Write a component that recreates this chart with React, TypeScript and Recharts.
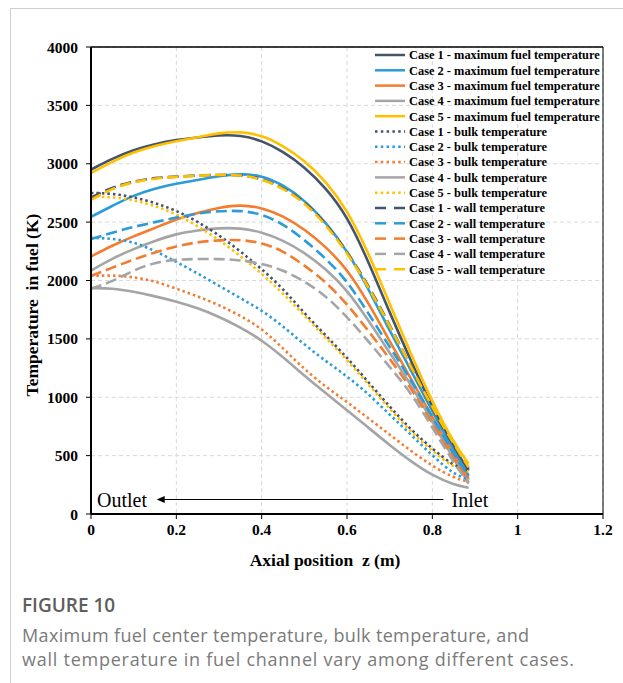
import { LineChart, Line, XAxis, YAxis, CartesianGrid, ReferenceLine, ReferenceDot, Label } from "recharts"

// axial positions (m)
const zPos = [0, 0.05, 0.1, 0.15, 0.2, 0.25, 0.3, 0.35, 0.4, 0.45, 0.5, 0.55, 0.6, 0.65, 0.7, 0.75, 0.8, 0.85, 0.885]

// maximum fuel temperature (K)
const maxCase1 = [2950, 3045, 3120, 3170, 3205, 3225, 3245, 3245, 3200, 3105, 2975, 2795, 2555, 2165, 1725, 1310, 910, 570, 370]
const maxCase2 = [2545, 2640, 2730, 2790, 2830, 2860, 2895, 2915, 2900, 2820, 2690, 2500, 2260, 1930, 1570, 1230, 880, 540, 330]
const maxCase3 = [2205, 2300, 2380, 2450, 2525, 2580, 2625, 2650, 2625, 2555, 2440, 2290, 2100, 1810, 1480, 1160, 830, 500, 300]
const maxCase4 = [2085, 2190, 2270, 2340, 2400, 2430, 2450, 2450, 2415, 2345, 2240, 2100, 1920, 1660, 1380, 1110, 790, 470, 270]
const maxCase5 = [2920, 3020, 3100, 3155, 3195, 3225, 3265, 3275, 3245, 3155, 3030, 2850, 2610, 2240, 1800, 1370, 960, 610, 430]

// bulk temperature (K)
const bulkCase1 = [2750, 2745, 2715, 2665, 2600, 2505, 2390, 2250, 2100, 1930, 1720, 1530, 1340, 1130, 920, 720, 560, 410, 375]
const bulkCase2 = [2365, 2360, 2330, 2255, 2160, 2060, 1955, 1850, 1745, 1610, 1450, 1310, 1180, 1030, 850, 680, 500, 340, 295]
const bulkCase3 = [2040, 2045, 2030, 1995, 1930, 1865, 1790, 1700, 1590, 1420, 1240, 1090, 960, 820, 680, 540, 410, 310, 275]
const bulkCase4 = [1935, 1935, 1905, 1865, 1820, 1765, 1690, 1600, 1490, 1345, 1185, 1035, 890, 740, 590, 450, 330, 250, 225]
const bulkCase5 = [2720, 2715, 2690, 2640, 2570, 2465, 2350, 2210, 2060, 1890, 1700, 1510, 1320, 1110, 900, 700, 540, 395, 365]

// wall temperature (K)
const wallCase1 = [2710, 2800, 2850, 2880, 2890, 2900, 2905, 2905, 2875, 2795, 2680, 2490, 2250, 1960, 1620, 1260, 900, 580, 385]
const wallCase2 = [2355, 2410, 2460, 2500, 2540, 2575, 2595, 2600, 2570, 2485, 2350, 2190, 2000, 1720, 1430, 1150, 830, 510, 320]
const wallCase3 = [2040, 2110, 2180, 2240, 2295, 2330, 2345, 2350, 2325, 2255, 2130, 1990, 1800, 1570, 1330, 1080, 780, 470, 290]
const wallCase4 = [1930, 1990, 2090, 2155, 2180, 2185, 2185, 2175, 2145, 2090, 1995, 1870, 1690, 1480, 1260, 1040, 740, 440, 260]
const wallCase5 = [2690, 2790, 2845, 2875, 2888, 2898, 2905, 2905, 2870, 2790, 2670, 2480, 2240, 1950, 1610, 1260, 910, 600, 400]

const xTicks = [0, 0.2, 0.4, 0.6, 0.8, 1, 1.2]
const yTicks = [0, 500, 1000, 1500, 2000, 2500, 3000, 3500, 4000]

const NAVY = "#44546A"
const BLUE = "#2A9CDA"
const ORANGE = "#F27D2F"
const GRAY = "#A5A5A5"
const GOLD = "#FFC000"

const SERIF = '"Liberation Serif", "Times New Roman", serif'

type Kind = "solid" | "dot" | "dash"

const seriesList: { key: string; name: string; color: string; kind: Kind; values: number[] }[] = [
  { key: "max1", name: "Case 1 - maximum fuel temperature", color: NAVY, kind: "solid", values: maxCase1 },
  { key: "max2", name: "Case 2 - maximum fuel temperature", color: BLUE, kind: "solid", values: maxCase2 },
  { key: "max3", name: "Case 3 - maximum fuel temperature", color: ORANGE, kind: "solid", values: maxCase3 },
  { key: "max4", name: "Case 4 - maximum fuel temperature", color: GRAY, kind: "solid", values: maxCase4 },
  { key: "max5", name: "Case 5 - maximum fuel temperature", color: GOLD, kind: "solid", values: maxCase5 },
  { key: "bulk1", name: "Case 1 - bulk temperature", color: NAVY, kind: "dot", values: bulkCase1 },
  { key: "bulk2", name: "Case 2 - bulk temperature", color: BLUE, kind: "dot", values: bulkCase2 },
  { key: "bulk3", name: "Case 3 - bulk temperature", color: ORANGE, kind: "dot", values: bulkCase3 },
  { key: "bulk4", name: "Case 4 - bulk temperature", color: GRAY, kind: "solid", values: bulkCase4 },
  { key: "bulk5", name: "Case 5 - bulk temperature", color: GOLD, kind: "dot", values: bulkCase5 },
  { key: "wall1", name: "Case 1 - wall temperature", color: NAVY, kind: "dash", values: wallCase1 },
  { key: "wall2", name: "Case 2 - wall temperature", color: BLUE, kind: "dash", values: wallCase2 },
  { key: "wall3", name: "Case 3 - wall temperature", color: ORANGE, kind: "dash", values: wallCase3 },
  { key: "wall4", name: "Case 4 - wall temperature", color: GRAY, kind: "dash", values: wallCase4 },
  { key: "wall5", name: "Case 5 - wall temperature", color: GOLD, kind: "dash", values: wallCase5 },
]

const dashFor: Record<Kind, string | undefined> = { solid: undefined, dot: "2.5 3", dash: "11 5" }

const chartData = zPos.map((z, i) => {
  const row: Record<string, number> = { z }
  seriesList.forEach((s) => {
    row[s.key] = s.values[i]
  })
  return row
})

function LegendBox() {
  return (
    <svg width={623} height={300} style={{ position: "absolute", left: 0, top: 0, pointerEvents: "none" }}>
      {seriesList.map((s, i) => {
        const y = 55 + i * 15.3
        return (
          <g key={s.key}>
            {s.kind === "dash" ? (
              <>
                <line x1={375} x2={386} y1={y} y2={y} stroke={s.color} strokeWidth={2.5} />
                <line x1={394} x2={405} y1={y} y2={y} stroke={s.color} strokeWidth={2.5} />
              </>
            ) : (
              <line x1={375} x2={405} y1={y} y2={y} stroke={s.color} strokeWidth={2.5} strokeDasharray={s.kind === "dot" ? "2.5 3.3" : undefined} />
            )}
            <text x={409} y={y + 4.3} fontFamily={SERIF} fontWeight="bold" fontSize={12.4} fill="#000">
              {s.name}
            </text>
          </g>
        )
      })}
    </svg>
  )
}

export default function App() {
  return (
    <div style={{ position: "absolute", left: 0, top: 0, width: 623, height: 683, background: "#fff", overflow: "hidden" }}>
      <div style={{ position: "absolute", left: 10, top: 8, width: 640, height: 700, borderTop: "1px solid #cfcfcf", borderLeft: "1px solid #cfcfcf" }} />
      <div style={{ position: "absolute", left: 0, top: 0 }}>
        <LineChart width={623} height={590} data={chartData} margin={{ top: 47, right: 20, bottom: 26, left: 0 }}>
          <CartesianGrid stroke="#d9d9d9" strokeDasharray="4 3" />
          <XAxis
            type="number"
            dataKey="z"
            domain={[0, 1.2]}
            ticks={xTicks}
            tickFormatter={(v) => String(v)}
            height={50}
            tickSize={5}
            tickMargin={5}
            axisLine={{ stroke: "#000", strokeWidth: 2 }}
            tickLine={{ stroke: "#000" }}
            tick={{ fill: "#000", fontFamily: SERIF, fontWeight: "bold", fontSize: 15.5 }}
          >
            <Label
              content={() => (
                <text x={325} y={566} textAnchor="middle" fontFamily={SERIF} fontWeight="bold" fontSize={17.5} fill="#000" style={{ whiteSpace: "pre" }}>
                  {"Axial position  z (m)"}
                </text>
              )}
            />
          </XAxis>
          <YAxis
            type="number"
            domain={[0, 4000]}
            ticks={yTicks}
            width={91}
            tickSize={5}
            tickMargin={8}
            axisLine={{ stroke: "#000", strokeWidth: 2 }}
            tickLine={{ stroke: "#000" }}
            tick={{ fill: "#000", fontFamily: SERIF, fontWeight: "bold", fontSize: 15.5 }}
          >
            <Label
              content={() => (
                <text x={0} y={0} transform="translate(38 305) rotate(-90)" textAnchor="middle" fontFamily={SERIF} fontWeight="bold" fontSize={17.5} fill="#000" style={{ whiteSpace: "pre" }}>
                  {"Temperature  in fuel (K)"}
                </text>
              )}
            />
          </YAxis>
          <ReferenceLine y={4000} stroke="#000" strokeWidth={1.5} />
          <ReferenceLine x={1.2} stroke="#000" strokeWidth={1} />
          {seriesList.map((s) => (
            <Line
              key={s.key}
              type="basis"
              dataKey={s.key}
              stroke={s.color}
              strokeWidth={2.6}
              strokeDasharray={dashFor[s.kind]}
              dot={false}
              activeDot={false}
              isAnimationActive={false}
            />
          ))}
          <ReferenceLine segment={[{ x: 0.162, y: 124 }, { x: 0.826, y: 124 }]} stroke="#000" strokeWidth={1.2} />
          <ReferenceDot
            x={0.154}
            y={124}
            shape={(p: any) => <polygon points={`${p.cx},${p.cy} ${p.cx + 8},${p.cy - 3.5} ${p.cx + 8},${p.cy + 3.5}`} fill="#000" />}
          />
          <ReferenceDot
            x={0.014}
            y={62}
            shape={(p: any) => (
              <text x={p.cx} y={p.cy} fontFamily={SERIF} fontSize={20} fill="#000">
                Outlet
              </text>
            )}
          />
          <ReferenceDot
            x={0.845}
            y={62}
            shape={(p: any) => (
              <text x={p.cx} y={p.cy} fontFamily={SERIF} fontSize={20} fill="#000">
                Inlet
              </text>
            )}
          />
        </LineChart>
      </div>
      <LegendBox />
      <div style={{ position: "absolute", left: 22, top: 592, fontFamily: '"Open Sans", sans-serif', fontSize: 19, fontWeight: 600, color: "#5e5e5e", lineHeight: "26px" }}>
        FIGURE 10
      </div>
      <div style={{ position: "absolute", left: 22, top: 623, fontFamily: '"Open Sans", sans-serif', fontSize: 18, color: "#7a7a7a", lineHeight: "24px", whiteSpace: "nowrap" }}>
        <div style={{ letterSpacing: "0.35px" }}>Maximum fuel center temperature, bulk temperature, and</div>
        <div style={{ letterSpacing: "0.75px" }}>wall temperature in fuel channel vary among different cases.</div>
      </div>
    </div>
  )
}
